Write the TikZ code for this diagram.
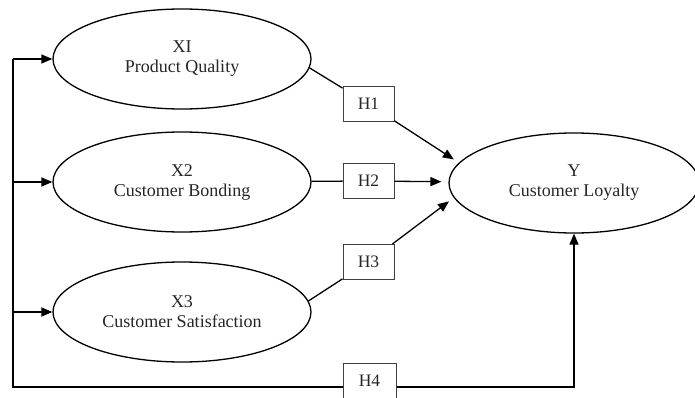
\documentclass[tikz,border=0pt]{standalone}
\usepackage{fontspec}
\setmainfont{Liberation Serif}
\usetikzlibrary{shapes.geometric,arrows.meta}
\begin{document}
\begin{tikzpicture}[x=1pt,y=-1pt,
  construct/.style={ellipse,draw,line width=1.3pt,minimum width=258pt,minimum height=100pt,
    inner sep=0pt,align=center,font=\fontsize{18}{20}\selectfont,text=black!85},
  hyp/.style={rectangle,draw=black!75,line width=1pt,minimum width=51pt,minimum height=35pt,
    inner sep=0pt,font=\fontsize{17.5}{20}\selectfont,text=black!85},
  link/.style={line width=1.3pt},
  arr/.style={link,-{Triangle[length=11pt,width=9pt]}}]
\useasboundingbox (0,0) rectangle (695,398);
\clip (0,0) rectangle (695,398);

% latent constructs
\node[construct] (X1) at (182,59)  {XI\\Product Quality};
\node[construct] (X2) at (182,182) {X2\\Customer Bonding};
\node[construct] (X3) at (182,312) {X3\\Customer Satisfaction};
\node[construct,minimum width=250pt] (Y) at (574,183) {Y\\Customer Loyalty};

% hypothesis labels
\node[hyp] (H1) at (368.5,104) {H1};
\node[hyp] (H2) at (368.5,181) {H2};
\node[hyp] (H3) at (368.5,262) {H3};
\node[hyp,minimum width=53pt] (H4) at (369.5,381) {H4};

% left bus feeding the three constructs
\coordinate (bus) at (13,387);
\draw[arr] (X1.west -| bus) -- (X1.west);
\draw[arr] (X2.west -| bus) -- (X2.west);
\draw[arr] (X3.west -| bus) -- (X3.west);
\draw[link] (X1.west -| bus) -- (bus) -- (bus -| H4.west);
\draw[arr] (bus -| H4.east) -- (bus -| Y.south) -- (Y.south);

% hypothesised paths
\draw[link] (X1.-4) -- (H1);
\draw[arr,shorten >=6pt] (H1) -- (Y.170);
\draw[link] (X2) -- (H2);
\draw[arr,shorten >=7pt] (H2) -- (Y);
\draw[link] (X3.5) -- (H3);
\draw[arr,shorten >=6pt] (H3) -- (Y.187);
\end{tikzpicture}
\end{document}
